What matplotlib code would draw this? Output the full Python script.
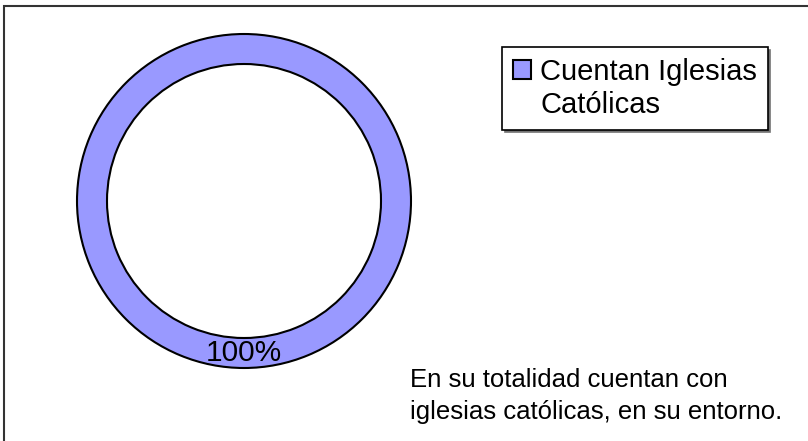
import matplotlib.pyplot as plt
from matplotlib.patches import Rectangle

plt.rcParams['font.family'] = ['Liberation Sans', 'DejaVu Sans']

# data
labels = ["Cuentan Iglesias\nCatólicas"]
values = [100]
colors = ['#9999FF']
note = "En su totalidad cuentan con\niglesias católicas, en su entorno."

W, H = 808, 441
fig = plt.figure(figsize=(W / 100, H / 100), dpi=100)
ax = fig.add_axes([0, 0, 1, 1])
ax.axis('off')

# outer chart border
fig.patches.append(Rectangle((4 / W, -0.05), 1.1, (H - 6) / H + 0.05,
                             transform=fig.transFigure, fill=False,
                             edgecolor='#333333', linewidth=1.5))

wedges, texts, autotexts = ax.pie(
    values, labels=None, colors=colors, startangle=90, counterclock=False,
    center=(244, H - 201), radius=167, autopct='%1.0f%%', pctdistance=0.91,
    wedgeprops=dict(width=30, edgecolor='black', linewidth=1.5),
    textprops=dict(fontsize=21.5, color='black'))
ax.set_xlim(0, W)
ax.set_ylim(0, H)
ax.set_aspect('equal')

fs = 21
leg = ax.legend(wedges, labels, loc='upper left', bbox_to_anchor=(502, H - 47),
                bbox_transform=ax.transData, borderaxespad=0, fontsize=fs,
                frameon=True, fancybox=False, edgecolor='black', framealpha=1,
                borderpad=0.36, handlelength=0.65, handleheight=0.65,
                handletextpad=0.3, labelspacing=0,
                shadow={'color': '0.45', 'alpha': 1})
leg.get_frame().set_linewidth(1.2)
for t in leg.get_texts():
    t.set_linespacing(1.25)
# put the swatch next to the first line of the label
h = leg.legend_handles[0]
h.set_y(h.get_y() + 14)

ax.text(410, H - 368, note, fontsize=18.5, ha='left', va='top', linespacing=1.4)

fig.savefig('out.png', dpi=100)
